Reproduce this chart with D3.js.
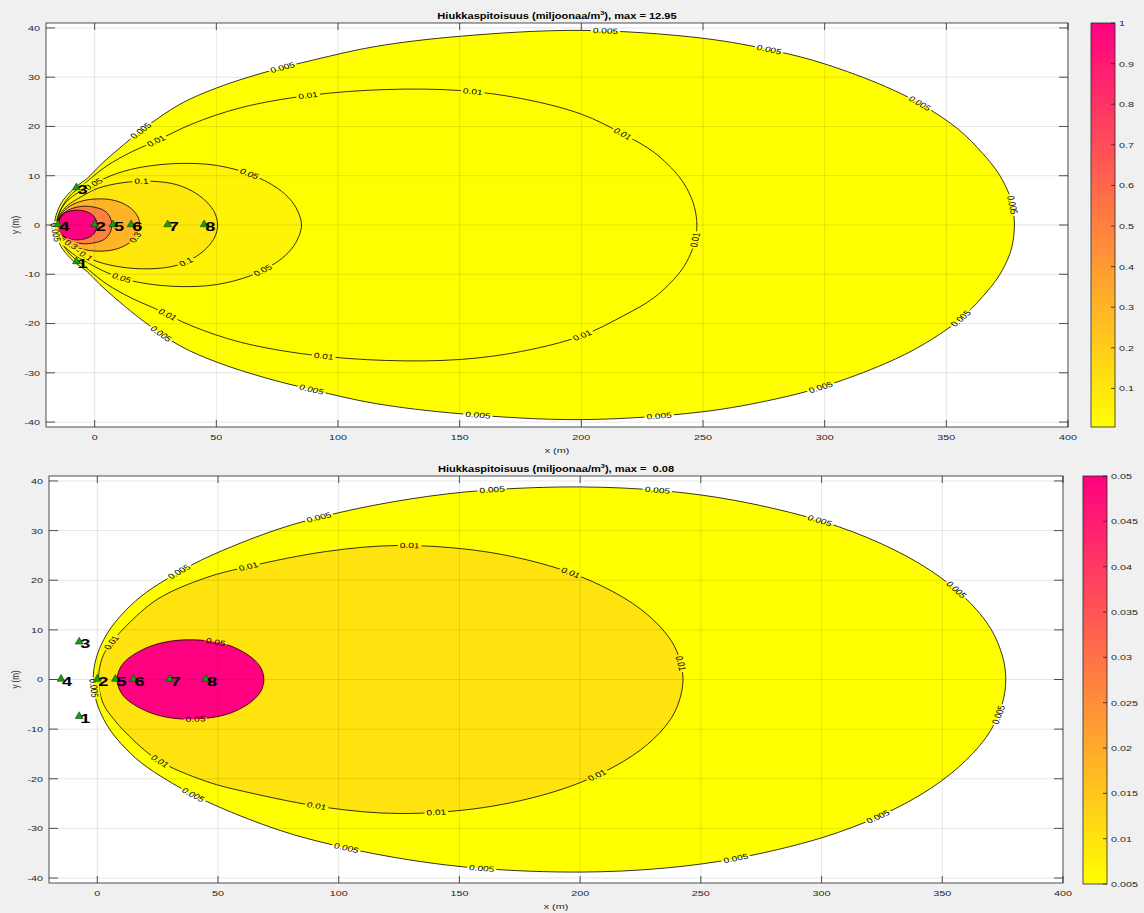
<!DOCTYPE html>
<html>
<head>
<meta charset="utf-8">
<script src="https://cdn.jsdelivr.net/npm/d3@7"></script>
<style>
  html, body { margin: 0; padding: 0; background: #f0f0f0; }
  svg { display: block; font-family: "Liberation Sans", Arial, sans-serif; }
</style>
</head>
<body>
<svg id="fig" width="1144" height="913"></svg>
<script>
// ---------------- data ----------------
const xTicks = [0, 50, 100, 150, 200, 250, 300, 350, 400];
const yTicks = [-40, -30, -20, -10, 0, 10, 20, 30, 40];

// emission sources (m)
const sourceIds = [1, 2, 3, 4, 5, 6, 7, 8];
const sourceX   = [-7.5, 0, -7.5, -15, 7.5, 15, 30, 45];
const sourceY   = [-7.5, 0, 7.5, 0, 0, 0, 0, 0];

// upper half of each iso-line [x, y] (m); the plume is symmetric about y = 0
const levels1 = [0.005, 0.01, 0.05, 0.1, 0.3, 0.5, 1];
const iso1_005 = [[-16.5,0],[-15.5,2.5],[-13,5],[-9,7.2],[-6.5,8.2],[-3,9.5],[2,12],[10,15.5],[20,19.5],[35,24.5],[50,27.8],[70,31],[90,33.5],[115,36.2],[150,38.3],[200,39.5],[250,37.9],[280,35.3],[300,32.7],[325,28.1],[340,24.4],[355,19.4],[365,14.5],[371,10.8],[375,7.2],[377,4.3],[378,0]];
const iso1_01  = [[-15.8,0],[-14.5,2.5],[-12,4.8],[-9,6.5],[-6,7.6],[-2,9.3],[5,12],[15,14.8],[25,17],[40,20.5],[60,23.8],[88,26.3],[120,27.5],[150,27.3],[175,25.7],[200,22.5],[217,18.5],[230,14.7],[240,9.9],[244,6.8],[246.5,3.6],[247.5,0]];
const iso1_05  = [[-15.5,0],[-14.5,2.5],[-12,4.5],[-8,6.2],[-3,7.6],[3,9.2],[10,10.6],[20,11.8],[35,12.5],[50,12.1],[64,10.3],[75,7.5],[81,4.8],[84,2.2],[85,0]];
const iso1_1   = [[-15.3,0],[-14,2.3],[-11,4.0],[-6,5.6],[0,7.2],[8,8.3],[20,8.9],[32,8.4],[40,6.9],[46,4.7],[49.5,2.3],[50.5,0]];
const iso1_3   = [[-15.1,0],[-13.5,2.3],[-10,3.9],[-5,4.9],[1,5.3],[7,5.1],[12,4.3],[16,2.9],[18,1.4],[18.5,0]];
const iso1_5   = [[-15,0],[-13.5,2],[-10,3.2],[-5,3.8],[0,3.6],[4,2.9],[6.3,1.6],[7,0]];
const iso1_10  = [[-15,0],[-14.2,1.5],[-12,2.5],[-8,3.0],[-4,2.8],[-1,2.1],[0.6,1.0],[1,0]];
const contours1 = [iso1_005, iso1_01, iso1_05, iso1_1, iso1_3, iso1_5, iso1_10];

const levels2 = [0.005, 0.01, 0.05];
const iso2_005 = [[-1.7,0],[-1,3.2],[1,6.3],[4.8,9.8],[10,13],[18,16.7],[29,20.3],[45,24.5],[75,30.3],[100,33.6],[130,36.4],[160,38.1],[200,38.8],[235,38],[265,36],[300,31.9],[325,27.3],[345,22],[360,16.2],[370,10.3],[375,4.6],[376.3,0]];
const iso2_01  = [[0.5,0],[1.2,2.9],[3,5.4],[6.5,7.8],[12,10.8],[25,16.2],[45,20.5],[63,22.8],[95,25.8],[125,27],[160,25.8],[190,22.5],[210,18.6],[225,14.2],[235,9.6],[240,5.7],[242.6,0]];
const iso2_05  = [[8.2,0],[9,1.8],[11,3.4],[15,5.0],[22,6.7],[30,7.7],[38.6,8],[47,7.7],[55,6.8],[62,5.1],[66,3.5],[68.2,1.9],[69,0]];
const contours2 = [iso2_005, iso2_01, iso2_05];

// in-line contour labels [level, x, y]
const labels1 = [
  [0.005,19.7,18.6],[0.005,78,30.7],[0.005,210,39.4],[0.005,277,35.4],[0.005,339,24.7],[0.005,377,4],
  [0.005,355.6,-18.8],[0.005,298,-32.4],[0.005,232,-38.7],[0.005,157.5,-38.3],[0.005,89.6,-32.5],[0.005,29,-20.8],[0.005,-16.5,-1.5],
  [0.01,25.5,16.8],[0.01,87.6,26.3],[0.01,155.4,27.1],[0.01,216.6,18.2],[0.01,246,-3],[0.01,200.6,-22.7],[0.01,94,-26.9],[0.01,30,-18.3],
  [0.05,0,7.8],[0.05,63.7,10.5],[0.05,69.2,-9.2],[0.05,11,-10.9],
  [0.1,19.2,8.8],[0.1,37.7,-7.8],[0.1,-3.4,-6.1],
  [0.3,16.4,-2.4],[0.3,-10,-4.3]
];
const labels2 = [
  [0.005,36,19.8],[0.005,92,32.4],[0.005,163.5,38.2],[0.005,232,38.4],[0.005,299.5,32.3],[0.005,356,18.2],[0.005,373,-7],
  [0.005,322.7,-26.9],[0.005,264.6,-36.4],[0.005,159,-39],[0.005,103.6,-33.1],[0.005,41.4,-21.7],[0.005,-1.5,-1.7],
  [0.01,6.9,7],[0.01,62.8,22.1],[0.01,129.4,26.9],[0.01,196,21.4],[0.01,240,3],[0.01,207,-19.2],[0.01,140.5,-26.7],[0.01,91,-25.3],[0.01,25.6,-16.6],
  [0.05,49,7.6],[0.05,40.7,-8]
];

// colour bars
const cbDomain1 = [0.005, 1];
const cbTicks1 = [0.1, 0.2, 0.3, 0.4, 0.5, 0.6, 0.7, 0.8, 0.9, 1];
const cbTickLabels1 = ["0.1","0.2","0.3","0.4","0.5","0.6","0.7","0.8","0.9","1"];
const cbDomain2 = [0.005, 0.05];
const cbTicks2 = [0.005, 0.01, 0.015, 0.02, 0.025, 0.03, 0.035, 0.04, 0.045, 0.05];
const cbTickLabels2 = ["0.005","0.01","0.015","0.02","0.025","0.03","0.035","0.04","0.045","0.05"];

const maxLabels = ["12.95", " 0.08"];

// ---------------- drawing ----------------
const S = 1.35;               // horizontal glyph stretch of the figure text
const INK = "#262626";
const svg = d3.select("#fig");
const defs = svg.append("defs");
const cmap = d3.interpolateRgb("#ffff00", "#ff0080");

function hText(parent, x, y, str, o = {}) {
  const t = parent.append("text")
    .attr("transform", `translate(${x},${y}) scale(${S},1)` + (o.rotate ? ` rotate(${o.rotate})` : ""))
    .attr("text-anchor", o.anchor || "middle")
    .attr("dominant-baseline", o.baseline || "central")
    .attr("font-size", o.size || 8)
    .attr("font-weight", o.weight || "normal")
    .attr("fill", o.fill || INK)
    .style("white-space", "pre")
    .text(str);
  return t;
}

function ring(pts) {
  const upper = pts.map(([x, y]) => [x, y]);
  const lower = pts.slice(1, -1).reverse().map(([x, y]) => [x, -y]);
  return upper.concat(lower);
}

function drawPanel(p) {
  const x = d3.scaleLinear().domain([-20, 400]).range([p.left, p.right]);
  const y = d3.scaleLinear().domain([-41, 41]).range([p.bottom, p.top]);
  const color = v => cmap((v - p.cbDomain[0]) / (p.cbDomain[1] - p.cbDomain[0]));
  const g = svg.append("g");

  g.append("rect").attr("x", p.left).attr("y", p.top)
    .attr("width", p.right - p.left).attr("height", p.bottom - p.top).attr("fill", "#fff");

  const clipId = "clip" + p.id;
  defs.append("clipPath").attr("id", clipId).append("rect")
    .attr("x", p.left).attr("y", p.top).attr("width", p.right - p.left).attr("height", p.bottom - p.top);
  const plot = g.append("g").attr("clip-path", `url(#${clipId})`);

  const line = d3.line().x(d => x(d[0])).y(d => y(d[1])).curve(d3.curveCatmullRomClosed.alpha(0.5));

  // filled bands
  p.contours.forEach((pts, i) => {
    plot.append("path").attr("d", line(ring(pts))).attr("fill", color(p.levels[i])).attr("stroke", "none");
  });

  // grid
  const grid = plot.append("g").attr("stroke", "#000").attr("stroke-opacity", 0.1).attr("stroke-width", 1);
  xTicks.forEach(v => grid.append("line").attr("x1", x(v)).attr("x2", x(v)).attr("y1", p.top).attr("y2", p.bottom));
  yTicks.forEach(v => grid.append("line").attr("y1", y(v)).attr("y2", y(v)).attr("x1", p.left).attr("x2", p.right));

  // iso-lines, with gaps cut where the labels sit
  const maskId = "mask" + p.id;
  const mask = defs.append("mask").attr("id", maskId).attr("maskUnits", "userSpaceOnUse")
    .attr("x", 0).attr("y", 0).attr("width", 1144).attr("height", 913);
  mask.append("rect").attr("x", 0).attr("y", 0).attr("width", 1144).attr("height", 913).attr("fill", "#fff");
  const lines = plot.append("g").attr("mask", `url(#${maskId})`);
  const linePaths = {};
  p.contours.forEach((pts, i) => {
    linePaths[p.levels[i]] = lines.append("path").attr("d", line(ring(pts)))
      .attr("fill", "none").attr("stroke", "#000").attr("stroke-width", 0.8).node();
  });

  // contour labels
  const lab = plot.append("g");
  p.labels.forEach(([lvl, lx, ly]) => {
    const path = linePaths[lvl];
    const total = path.getTotalLength();
    const tx = x(lx), ty = y(ly);
    let best = 0, bestD = Infinity;
    for (let L = 0; L <= total; L += 0.5) {
      const pt = path.getPointAtLength(L);
      const d = (pt.x - tx) ** 2 + (pt.y - ty) ** 2;
      if (d < bestD) { bestD = d; best = L; }
    }
    const c = path.getPointAtLength(best);
    const a = path.getPointAtLength(Math.max(0, best - 3));
    const b = path.getPointAtLength(Math.min(total, best + 3));
    let ang = Math.atan2(b.y - a.y, (b.x - a.x) / S) * 180 / Math.PI;
    if (ang > 90) ang -= 180;
    if (ang < -90) ang += 180;
    const fs = 7.5;
    const t = hText(lab, c.x, c.y, String(lvl), { size: fs, rotate: ang, fill: "#000" });
    const w = t.node().getComputedTextLength();
    mask.append("rect")
      .attr("transform", `translate(${c.x},${c.y}) scale(${S},1) rotate(${ang})`)
      .attr("x", -w / 2 - 1.5).attr("y", -fs / 2 - 0.5).attr("width", w + 3).attr("height", fs + 1)
      .attr("fill", "#000");
  });

  // sources
  const src = plot.append("g");
  sourceIds.forEach((id, i) => {
    src.append("path")
      .attr("d", d3.symbol(d3.symbolTriangle, 26)())
      .attr("transform", `translate(${x(sourceX[i])},${y(sourceY[i]) - 0.5})`)
      .attr("fill", "#12a012").attr("stroke", "#0b3d0b").attr("stroke-width", 0.6);
  });
  sourceIds.forEach((id, i) => {
    hText(src, x(sourceX[i]) + 1, y(sourceY[i]) + 1, String(id), { size: 13.5, anchor: "start", weight: "bold", fill: "#000" });
  });

  // axes box and inward ticks
  const ax = g.append("g").attr("stroke", INK).attr("stroke-width", 0.8);
  ax.append("rect").attr("x", p.left).attr("y", p.top)
    .attr("width", p.right - p.left).attr("height", p.bottom - p.top).attr("fill", "none");
  xTicks.forEach(v => {
    ax.append("line").attr("x1", x(v)).attr("x2", x(v)).attr("y1", p.bottom).attr("y2", p.bottom - 7);
    ax.append("line").attr("x1", x(v)).attr("x2", x(v)).attr("y1", p.top).attr("y2", p.top + 7);
  });
  yTicks.forEach(v => {
    ax.append("line").attr("y1", y(v)).attr("y2", y(v)).attr("x1", p.left).attr("x2", p.left + 9);
    ax.append("line").attr("y1", y(v)).attr("y2", y(v)).attr("x1", p.right).attr("x2", p.right - 9);
  });
  xTicks.forEach(v => hText(g, x(v), p.bottom + 10, String(v), { size: 8 }));
  yTicks.forEach(v => hText(g, p.left - 6, y(v), String(v), { size: 8, anchor: "end" }));

  hText(g, (p.left + p.right) / 2, p.bottom + 23.5, "x (m)", { size: 8 });
  hText(g, 15, (p.top + p.bottom) / 2, "y (m)", { size: 8, rotate: -90 });

  // title
  const title = hText(g, (p.left + p.right) / 2, p.top - 7.5, "", { size: 8.2, weight: "bold", fill: "#000" });
  title.append("tspan").text("Hiukkaspitoisuus (miljoonaa/m");
  title.append("tspan").attr("baseline-shift", "super").attr("font-size", 5.5).text("3");
  title.append("tspan").text("), max = " + p.maxLabel);

  // colour bar
  const cb = d3.scaleLinear().domain(p.cbDomain).range([p.cbBottom, p.cbTop]);
  const gradId = "grad" + p.id;
  const grad = defs.append("linearGradient").attr("id", gradId)
    .attr("x1", 0).attr("y1", 1).attr("x2", 0).attr("y2", 0);
  d3.range(0, 1.0001, 0.05).forEach(t => grad.append("stop").attr("offset", t).attr("stop-color", cmap(t)));
  g.append("rect").attr("x", p.cbLeft).attr("y", p.cbTop)
    .attr("width", p.cbRight - p.cbLeft).attr("height", p.cbBottom - p.cbTop)
    .attr("fill", `url(#${gradId})`).attr("stroke", INK).attr("stroke-width", 0.8);
  p.cbTicks.forEach((v, i) => {
    g.append("line").attr("x1", p.cbRight - 4).attr("x2", p.cbRight).attr("y1", cb(v)).attr("y2", cb(v))
      .attr("stroke", INK).attr("stroke-width", 0.8);
    hText(g, p.cbRight + 4, cb(v), p.cbTickLabels[i], { size: 8, anchor: "start" });
  });
}

drawPanel({
  id: 1, left: 46, right: 1068, top: 23, bottom: 427,
  levels: levels1, contours: contours1, labels: labels1, maxLabel: maxLabels[0],
  cbDomain: cbDomain1, cbTicks: cbTicks1, cbTickLabels: cbTickLabels1,
  cbLeft: 1091, cbRight: 1115, cbTop: 23, cbBottom: 427
});
drawPanel({
  id: 2, left: 49, right: 1063, top: 476, bottom: 883,
  levels: levels2, contours: contours2, labels: labels2, maxLabel: maxLabels[1],
  cbDomain: cbDomain2, cbTicks: cbTicks2, cbTickLabels: cbTickLabels2,
  cbLeft: 1083, cbRight: 1107, cbTop: 476, cbBottom: 884
});
</script>
</body>
</html>
